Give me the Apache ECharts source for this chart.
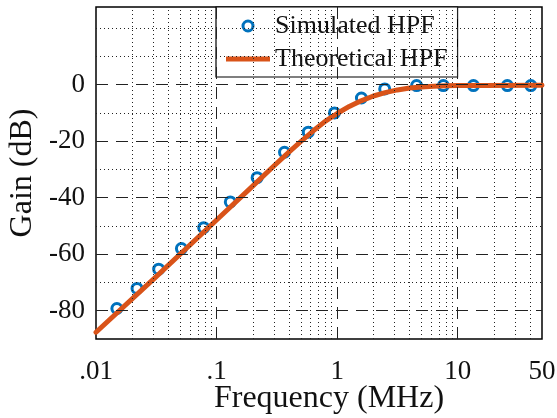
<!DOCTYPE html>
<html>
<head>
<meta charset="utf-8">
<script src="https://cdn.jsdelivr.net/npm/echarts@6/dist/echarts.min.js"></script>
<style>html,body{margin:0;padding:0;background:#fff}#c{width:557px;height:418px}</style>
</head>
<body>
<div id="c"></div>
<script>
// Simulated HPF points: [frequency MHz, gain dB]
var simulatedFreq = [0.0149, 0.0219, 0.0331, 0.0511, 0.0782, 0.130, 0.217, 0.366, 0.576, 0.95, 1.59, 2.48, 4.56, 7.6, 13.5, 25.8, 40.4];
var simulatedGain = [-79.2, -72.1, -65.3, -58.0, -50.6, -41.5, -32.9, -23.9, -16.8, -10.0, -4.7, -1.5, -0.3, -0.3, -0.3, -0.3, -0.3];
// Theoretical HPF curve
var theoryFreq = [0.01, 0.03, 0.1, 0.2, 0.3, 0.4, 0.5, 0.63, 0.8, 1, 1.26, 1.58, 2, 2.5, 3.16, 4, 5, 6.3, 8, 10, 16, 50];
var theoryGain = [-87.6, -68.8, -47.9, -35.8, -28.7, -23.8, -20.1, -16.4, -12.9, -10.2, -7.7, -5.7, -4.0, -2.8, -1.85, -1.2, -0.8, -0.55, -0.4, -0.3, -0.25, -0.2];
// Axis ticks
var xTickValues = [0.01, 0.1, 1, 10, 50];
var xTickLabels = ['.01', '.1', '1', '10', '50'];
var yTickValues = [0, -20, -40, -60, -80];
var yTickLabels = ['0', '-20', '-40', '-60', '-80'];
// Grid lines
var xMajorGrid = [0.1, 1, 10];
var xMinorGrid = [0.02, 0.03, 0.04, 0.05, 0.06, 0.07, 0.08, 0.09, 0.2, 0.3, 0.4, 0.5, 0.6, 0.7, 0.8, 0.9, 2, 3, 4, 5, 6, 7, 8, 9, 20, 30, 40];
var yMajorGrid = [0, -20, -40, -60, -80];
var yMinorGrid = [20, 10, -10, -30, -50, -70];

var FONT = 'Liberation Serif';
var BLUE = '#0072BD', ORANGE = '#D95319';
function zip(a, b) { return a.map(function (v, i) { return [v, b[i]]; }); }

var chart = echarts.init(document.getElementById('c'), null, { renderer: 'canvas' });
var dotted = { color: '#222', width: 1, type: [1, 3] };
var dashed = { color: '#222', width: 1, type: [12, 8] };
function ml(list, key, style) {
  return {
    silent: true, symbol: 'none', label: { show: false }, animation: false,
    lineStyle: style, emphasis: { disabled: true },
    data: list.map(function (v) { var o = {}; o[key] = v; return o; })
  };
}
chart.setOption({
  animation: false,
  backgroundColor: '#fff',
  grid: {
    left: 96, top: 7, width: 446, height: 332, containLabel: false, outerBoundsMode: 'none',
    show: true, borderColor: '#000', borderWidth: 1.5, backgroundColor: 'transparent'
  },
  legend: {
    left: 216, top: 7, orient: 'vertical',
    padding: [6, 10, 5, 10], itemGap: 7, itemWidth: 44, itemHeight: 10,
    backgroundColor: '#fff', borderColor: '#000', borderWidth: 1.2,
    textStyle: { fontFamily: FONT, fontSize: 26, color: '#111' },
    data: [
      { name: 'Simulated HPF', icon: 'circle', itemStyle: { color: 'transparent', borderColor: BLUE, borderWidth: 3 } },
      { name: 'Theoretical HPF', icon: 'path://M0,0 L44,0 L44,5 L0,5 Z', itemStyle: { color: ORANGE, borderWidth: 0 } }
    ]
  },
  xAxis: {
    type: 'log', logBase: 10, min: 0.01, max: 50,
    name: 'Frequency (MHz)', nameLocation: 'middle', nameGap: 44, nameMoveOverlap: false,
    nameTextStyle: { fontFamily: FONT, fontSize: 32, color: '#111', padding: [0, 0, 0, 20] },
    axisLine: { show: false }, axisTick: { show: false }, splitLine: { show: false },
    axisLabel: {
      customValues: xTickValues, margin: 19, fontFamily: FONT, fontSize: 27, color: '#111',
      formatter: function (v) {
        var best = 0;
        for (var i = 0; i < xTickValues.length; i++) if (Math.abs(Math.log10(v) - Math.log10(xTickValues[i])) < Math.abs(Math.log10(v) - Math.log10(xTickValues[best]))) best = i;
        return xTickLabels[best];
      }
    }
  },
  yAxis: {
    type: 'value', min: -90, max: 27.5,
    name: 'Gain (dB)', nameLocation: 'middle', nameGap: 57, nameMoveOverlap: false,
    nameTextStyle: { fontFamily: FONT, fontSize: 32, color: '#111' },
    axisLine: { show: false }, axisTick: { show: false }, splitLine: { show: false },
    axisLabel: {
      customValues: yTickValues, margin: 11, fontFamily: FONT, fontSize: 27, color: '#111',
      formatter: function (v) { var i = yTickValues.indexOf(Math.round(v)); return i >= 0 ? yTickLabels[i] : ''; }
    }
  },
  series: [
    { type: 'line', data: [], z: 1, silent: true, markLine: ml(xMinorGrid, 'xAxis', dotted) },
    { type: 'line', data: [], z: 1, silent: true, markLine: ml(yMinorGrid, 'yAxis', dotted) },
    { type: 'line', data: [], z: 1, silent: true, markLine: ml(xMajorGrid, 'xAxis', dashed) },
    { type: 'line', data: [], z: 1, silent: true, markLine: ml(yMajorGrid, 'yAxis', dashed) },
    {
      name: 'Simulated HPF', type: 'scatter', z: 2, data: zip(simulatedFreq, simulatedGain),
      symbol: 'circle', symbolSize: 10,
      itemStyle: { color: 'transparent', borderColor: BLUE, borderWidth: 3, opacity: 1 }
    },
    {
      name: 'Theoretical HPF', type: 'line', z: 3, data: zip(theoryFreq, theoryGain),
      smooth: false, showSymbol: false, symbol: 'none',
      lineStyle: { color: ORANGE, width: 5, join: 'round', cap: 'round' }, itemStyle: { color: ORANGE }
    }
  ]
});
</script>
</body>
</html>
